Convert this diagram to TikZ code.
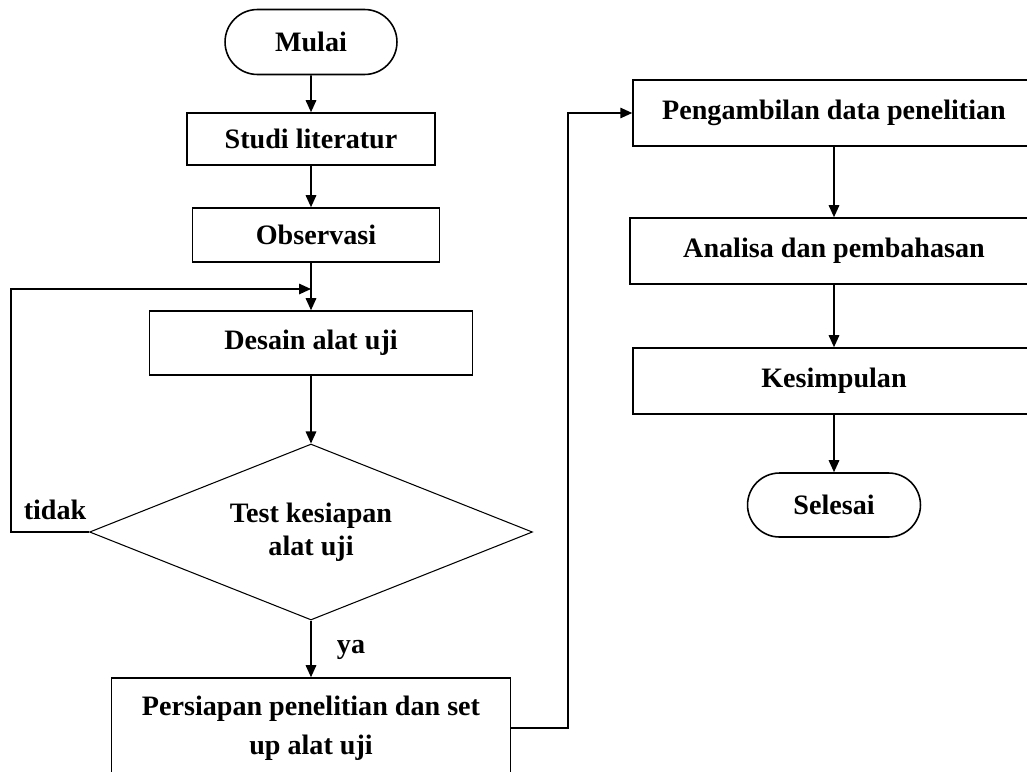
\documentclass[tikz,border=0pt]{standalone}
\usepackage{fontspec}
\setmainfont{Liberation Serif}
\usetikzlibrary{arrows.meta,positioning,shapes.geometric,shapes.misc}

\begin{document}
\begin{tikzpicture}[
  x=0.02cm, y=-0.02cm,
  font=\bfseries\fontsize{16}{19}\selectfont,
  line width=0.9pt,
  terminal/.style={draw, rounded rectangle, minimum width=3.58cm,
                   minimum height=1.3cm, inner sep=2pt},
  process/.style={draw, rectangle, minimum height=1.32cm, align=center,
                  inner sep=2pt},
  decision/.style={draw, diamond, aspect=2.5, inner sep=0pt, line width=0.6pt,
                   minimum width=8.86cm, minimum height=3.52cm, align=center},
  flow/.style={-{Triangle[length=2.4mm, width=2.1mm]}},
  tag/.style={inner sep=0pt}
]
  \useasboundingbox (0,0) rectangle (1027,771);

  % left column
  \node[terminal] (mulai) at (311,42) {Mulai};
  \node[process, minimum width=4.96cm, minimum height=1.04cm] (studi) at (311,139) {Studi literatur};
  \node[process, minimum width=4.94cm, minimum height=1.08cm] (obs) at (316,235) {Observasi};
  \node[process, minimum width=6.46cm, minimum height=1.28cm] (desain) at (311,343) {Desain alat uji};
  \node[decision] (test) at (311,532) {Test kesiapan\\alat uji};
  \node[process, minimum width=7.98cm, minimum height=2cm] (persiapan) at (311,728)
       {Persiapan penelitian dan set\\[3pt]up alat uji};
  \coordinate (join) at (311,289);

  % right column
  \node[process, minimum width=8.04cm] (ambil) at (834,113) {Pengambilan data penelitian};
  \node[process, minimum width=8.16cm] (analisa) at (834,251) {Analisa dan pembahasan};
  \node[process, minimum width=8.04cm] (simpul) at (834,381) {Kesimpulan};
  \node[terminal, minimum width=3.6cm, minimum height=1.28cm] (selesai) at (834,505) {Selesai};

  \node[tag] (tidak) at (55,510) {tidak};
  \node[tag] (ya) at (351,650) {ya};

  \draw[flow] (mulai) -- (studi);
  \draw[flow] (studi.south) -- (studi.south |- obs.north);
  \draw (obs.south -| join) -- (join);
  \draw[flow] (join) -- (desain.north);
  \draw[flow] (desain) -- (test);
  \draw[flow] (test) -- (persiapan);
  \draw[flow] (test.west) -- ++(-78,0) |- (join);
  \draw[flow] (persiapan.east) -- ++(57,0) |- (ambil.west);
  \draw[flow] (ambil) -- (analisa);
  \draw[flow] (analisa) -- (simpul);
  \draw[flow] (simpul) -- (selesai);
\end{tikzpicture}
\end{document}
